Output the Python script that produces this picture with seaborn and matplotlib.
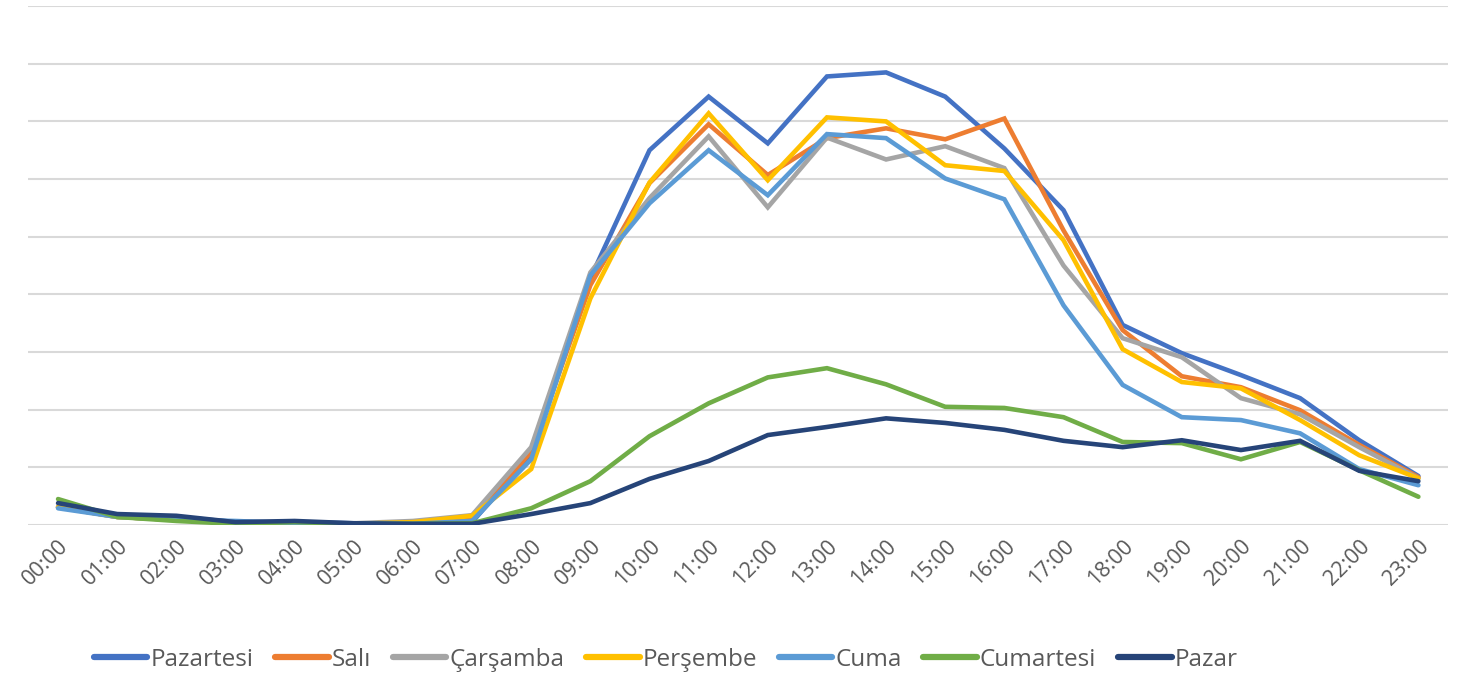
import numpy as np
import pandas as pd
import seaborn as sns
import matplotlib.pyplot as plt

# Hours of the day
hours = [f"{h:02d}:00" for h in range(24)]

# Values (one list per weekday)
pazartesi = [0.31, 0.17, 0.14, 0.05, 0.05, 0.03, 0.02, 0.05, 1.21, 4.28, 6.50, 7.43,
             6.62, 7.78, 7.85, 7.43, 6.53, 5.46, 3.47, 2.98, 2.60, 2.20, 1.47, 0.85]
sali = [0.31, 0.14, 0.09, 0.03, 0.02, 0.02, 0.02, 0.10, 1.27, 4.16, 5.93, 6.95,
        6.07, 6.71, 6.88, 6.69, 7.05, 5.11, 3.38, 2.58, 2.39, 1.99, 1.39, 0.83]
carsamba = [0.31, 0.14, 0.09, 0.05, 0.03, 0.03, 0.07, 0.17, 1.35, 4.38, 5.67, 6.74,
            5.51, 6.72, 6.34, 6.57, 6.19, 4.50, 3.24, 2.91, 2.20, 1.92, 1.35, 0.81]
persembe = [0.31, 0.14, 0.09, 0.03, 0.02, 0.02, 0.05, 0.16, 0.97, 3.93, 5.94, 7.14,
            5.98, 7.07, 7.00, 6.24, 6.14, 4.94, 3.05, 2.48, 2.37, 1.82, 1.21, 0.81]
cuma = [0.29, 0.14, 0.09, 0.07, 0.03, 0.03, 0.02, 0.07, 1.14, 4.33, 5.58, 6.50,
        5.72, 6.78, 6.71, 6.01, 5.65, 3.81, 2.43, 1.87, 1.82, 1.59, 0.97, 0.69]
cumartesi = [0.45, 0.14, 0.07, 0.02, 0.05, 0.02, 0.02, 0.03, 0.29, 0.76, 1.54, 2.11,
             2.56, 2.72, 2.44, 2.05, 2.03, 1.87, 1.44, 1.42, 1.14, 1.44, 0.95, 0.49]
pazar = [0.38, 0.19, 0.16, 0.05, 0.07, 0.03, 0.02, 0.02, 0.19, 0.38, 0.80, 1.11,
         1.56, 1.70, 1.85, 1.77, 1.65, 1.46, 1.35, 1.47, 1.30, 1.46, 0.94, 0.76]

days = ["Pazartesi", "Salı", "Çarşamba", "Perşembe", "Cuma", "Cumartesi", "Pazar"]
colors = ["#4472C4", "#ED7D31", "#A5A5A5", "#FFC000", "#5B9BD5", "#70AD47", "#264478"]
series = [pazartesi, sali, carsamba, persembe, cuma, cumartesi, pazar]

# Long form table for seaborn
df = pd.concat(
    [pd.DataFrame({"hour": np.arange(24), "value": vals, "day": d})
     for d, vals in zip(days, series)],
    ignore_index=True)

sns.set_theme(style="white")
plt.rcParams["font.family"] = ["Open Sans", "DejaVu Sans"]

fig = plt.figure(figsize=(14.76, 6.79), dpi=100)
ax = fig.add_axes([0.0193, 0.2268, 0.9617, 0.7642])

sns.lineplot(data=df, x="hour", y="value", hue="day", hue_order=days,
             palette=colors, linewidth=3.3, ax=ax, legend=False,
             solid_capstyle="round", solid_joinstyle="miter")

ax.set_xlim(-0.5, 23.5)
ax.set_ylim(0, 9)
ax.set_yticks(np.arange(0, 10, 1))
ax.yaxis.grid(True, color="#D9D9D9", linewidth=1.5)
ax.set_axisbelow(True)
ax.tick_params(axis="y", left=False, labelleft=False)
ax.set_xticks(np.arange(24))
ax.set_xticklabels(hours, rotation=45, ha="right", rotation_mode="anchor",
                   fontsize=15.5, color="#595959")
ax.tick_params(axis="x", length=0, pad=8)
ax.set_xlabel("")
ax.set_ylabel("")
for s in ax.spines.values():
    s.set_visible(False)

handles = [plt.Line2D([], [], color=c, linewidth=4.5, solid_capstyle="round")
           for c in colors]
fig.legend(handles, days, loc="center", bbox_to_anchor=(0.451, 0.028),
           ncol=7, frameon=False, fontsize=17.5, labelcolor="#595959",
           handlelength=2.2, handletextpad=0.12, columnspacing=0.9)

fig.savefig("out.png", dpi=100)
